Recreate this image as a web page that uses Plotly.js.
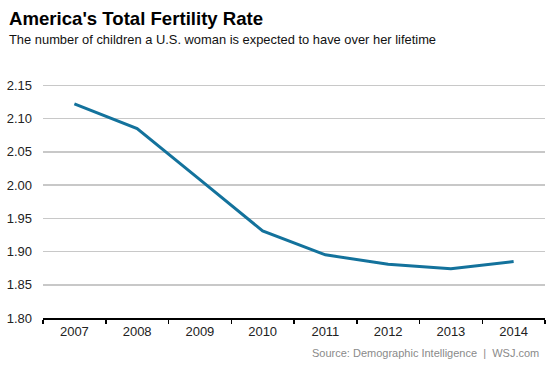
<!DOCTYPE html>
<html><head><meta charset="utf-8">
<script src="https://cdn.plot.ly/plotly-3.0.1.min.js"></script>
<style>html,body{margin:0;padding:0;background:#fff}#chart{width:553px;height:369px}</style>
</head><body><div id="chart"></div>
<script>
const years = ['2007','2008','2009','2010','2011','2012','2013','2014'];
const fertilityRate = [2.122, 2.085, 2.008, 1.931, 1.895, 1.881, 1.874, 1.885];
const yTicks = [1.80, 1.85, 1.90, 1.95, 2.00, 2.05, 2.10, 2.15];

const trace = {
  x: years, y: fertilityRate, type: 'scatter', mode: 'lines',
  line: {color: '#13729c', width: 3}, hoverinfo: 'skip'
};
const font = 'Liberation Sans, Arial, sans-serif';
const layout = {
  width: 553, height: 369,
  margin: {l: 43, r: 8, t: 72, b: 51},
  paper_bgcolor: '#fff', plot_bgcolor: '#fff',
  showlegend: false,
  font: {family: font, color: '#222', size: 13},
  xaxis: {
    type: 'category', range: [-0.5, 7.5], tickson: 'boundaries',
    ticks: 'outside', ticklen: 4, tickwidth: 1.5, tickcolor: '#000',
    showline: true, linecolor: '#000', linewidth: 2,
    showgrid: false, zeroline: false, fixedrange: true,
    tickfont: {size: 13, color: '#222'}
  },
  yaxis: {
    range: [1.8, 2.17], tickvals: yTicks, ticktext: yTicks.map(v => v.toFixed(2)),
    showgrid: true, gridcolor: '#c8c8c8', gridwidth: 1.5,
    zeroline: false, showline: false, ticks: '', ticklabelstandoff: 10,
    tickfont: {size: 13, color: '#222'}, fixedrange: true
  },
  annotations: [
    {text: "<b>America's Total Fertility Rate</b>", xref: 'paper', yref: 'paper',
     x: 0, y: 0, xanchor: 'left', yanchor: 'middle', showarrow: false,
     font: {size: 18.6, color: '#000', family: font}},
    {text: 'The number of children a U.S. woman is expected to have over her lifetime',
     xref: 'paper', yref: 'paper', x: 0, y: 0, xanchor: 'left', yanchor: 'middle',
     showarrow: false, font: {size: 12.9, color: '#111', family: font}},
    {text: 'Source: Demographic Intelligence  |  WSJ.com', xref: 'paper', yref: 'paper',
     x: 0, y: 0, xanchor: 'right', yanchor: 'middle', showarrow: false,
     font: {size: 11, color: '#8a8a8a', family: font}}
  ]
};
// position annotations in pixel terms relative to paper
const plotH = 369 - 72 - 51, plotW = 553 - 43 - 8;
function py(pix){ return (369 - 51 - pix) / plotH; }
function px(pix){ return (pix - 43) / plotW; }
layout.annotations[0].x = px(7); layout.annotations[0].y = py(18);
layout.annotations[1].x = px(7); layout.annotations[1].y = py(40);
layout.annotations[2].x = px(541); layout.annotations[2].y = py(353);
Plotly.newPlot('chart', [trace], layout, {displayModeBar: false, staticPlot: true});
</script></body></html>
